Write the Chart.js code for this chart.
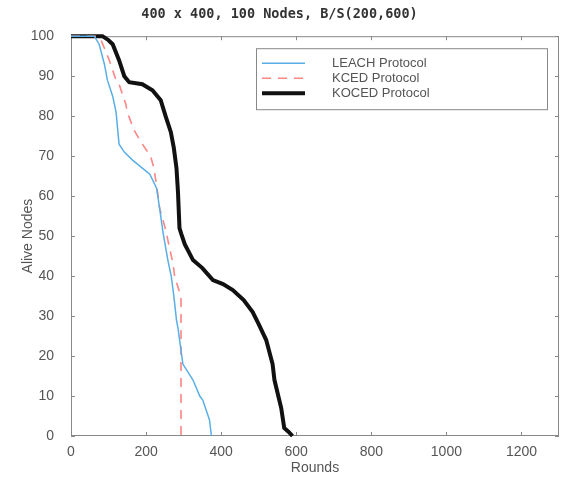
<!DOCTYPE html>
<html>
<head>
<meta charset="utf-8">
<script src="https://cdn.jsdelivr.net/npm/chart.js@4/dist/chart.umd.min.js"></script>
<style>
  html, body { margin: 0; padding: 0; background: #fff; }
  #wrap { width: 561px; height: 485px; }
</style>
</head>
<body>
<div id="wrap"><canvas id="chart1"></canvas></div>
<script>
"use strict";

var chartTitle = '400 x 400, 100 Nodes, B/S(200,600)';

// rounds / alive nodes
var leachRounds = [0, 62, 75, 89, 97, 111, 120, 124, 128, 142, 164, 190, 210, 228, 236, 245, 258, 267, 274, 281, 285, 298, 325, 343, 351, 369, 374];
var leachAlive  = [100, 100, 98, 93, 89, 85, 81, 77, 73, 71, 69, 67, 65.5, 62, 57, 51, 44, 40, 35, 29, 27, 18, 14, 10, 9, 4, 0];

var kcedRounds = [0, 68, 80, 89, 102, 120, 128, 146, 150, 168, 190, 212, 221, 223, 232, 236, 254, 258, 272, 276, 289, 293, 293];
var kcedAlive  = [100, 100, 99, 97, 94, 89, 88, 83, 81, 76.5, 73, 70, 67, 65.7, 60, 57, 51, 49, 43, 40, 36, 35, 0];

var kocedRounds = [0, 84, 100, 111, 128, 142, 155, 190, 217, 239, 252, 266, 274, 281, 285, 289, 294, 303, 325, 350, 378, 405, 431, 460, 484, 500, 520, 537, 542, 560, 568, 580, 590];
var kocedAlive  = [100, 100, 99, 98, 94, 90, 88.5, 88, 86.5, 84, 80, 76, 72, 67, 61, 52, 50.5, 48, 44, 42, 39, 38, 36.5, 34, 31, 28, 24, 18, 14, 7, 2, 1, 0];

var xTicks = [0, 200, 400, 600, 800, 1000, 1200];

var toPoints = function toPoints(xs, ys) {
  var pts = [];
  for (var i = 0; i < xs.length; i++) {
    pts.push({ x: xs[i], y: ys[i] });
  }
  return pts;
};

var axisColor = '#888';
var textColor = '#555';

// matlab style box + inward ticks
var framePlugin = {
  id: 'frame',
  beforeDatasetsDraw: function (chart) {
    var c = chart.ctx, a = chart.chartArea;
    var xs = chart.scales.x, ys = chart.scales.y;
    c.save();
    c.strokeStyle = axisColor;
    c.lineWidth = 1;
    c.strokeRect(a.left + 0.5, a.top + 0.5, a.right - a.left - 1, a.bottom - a.top - 1);
    c.beginPath();
    xs.ticks.forEach(function (t) {
      var px = Math.round(xs.getPixelForValue(t.value)) + 0.5;
      c.moveTo(px, a.bottom); c.lineTo(px, a.bottom - 4);
      c.moveTo(px, a.top); c.lineTo(px, a.top + 4);
    });
    ys.ticks.forEach(function (t) {
      var py = Math.round(ys.getPixelForValue(t.value)) + 0.5;
      c.moveTo(a.left, py); c.lineTo(a.left + 4, py);
      c.moveTo(a.right, py); c.lineTo(a.right - 4, py);
    });
    c.stroke();
    c.restore();
  }
};

var legendPlugin = {
  id: 'boxLegend',
  afterDatasetsDraw: function (chart) {
    var c = chart.ctx, a = chart.chartArea;
    var w = 291, h = 61;
    var x0 = a.right - 12 - w, y0 = a.top + 12;
    c.save();
    c.fillStyle = '#fff';
    c.fillRect(x0, y0, w, h);
    c.strokeStyle = axisColor;
    c.lineWidth = 1;
    c.strokeRect(x0 + 0.5, y0 + 0.5, w, h);
    c.font = '13px "Liberation Sans", Arial, sans-serif';
    c.textBaseline = 'middle';
    chart.data.datasets.forEach(function (ds, i) {
      var y = y0 + 15 + i * 15;
      c.strokeStyle = ds.borderColor;
      c.lineWidth = ds.borderWidth;
      c.setLineDash(ds.borderDash || []);
      c.beginPath();
      c.moveTo(x0 + 6, y);
      c.lineTo(x0 + 49, y);
      c.stroke();
      c.setLineDash([]);
      c.fillStyle = textColor;
      c.fillText(ds.label, x0 + 76, y);
    });
    c.restore();
  }
};

var ctx = document.getElementById('chart1').getContext('2d');
new Chart(ctx, {
  type: 'line',
  data: {
    datasets: [{
      label: 'LEACH Protocol',
      data: toPoints(leachRounds, leachAlive),
      borderColor: '#5aaee6',
      borderWidth: 1.5,
      pointRadius: 0,
      fill: false,
      clip: false
    }, {
      label: 'KCED Protocol',
      data: toPoints(kcedRounds, kcedAlive),
      borderColor: '#ff8585',
      borderWidth: 1.6,
      borderDash: [9, 7],
      pointRadius: 0,
      fill: false,
      clip: false
    }, {
      label: 'KOCED Protocol',
      data: toPoints(kocedRounds, kocedAlive),
      borderColor: '#111',
      borderWidth: 4,
      pointRadius: 0,
      fill: false,
      clip: false
    }]
  },
  options: {
    responsive: true,
    maintainAspectRatio: false,
    animation: false,
    layout: { padding: { left: 0, right: 2, top: 0, bottom: 0 } },
    plugins: {
      legend: { display: false },
      tooltip: { enabled: false },
      title: {
        display: true,
        text: chartTitle,
        color: '#333',
        font: { family: '"DejaVu Sans Mono", monospace', size: 13.5, weight: 'bold' },
        padding: { top: 6, bottom: 14 }
      }
    },
    scales: {
      x: {
        type: 'linear',
        min: 0,
        max: 1300,
        afterBuildTicks: function (scale) {
          scale.ticks = xTicks.map(function (v) { return { value: v }; });
        },
        afterFit: function (scale) { scale.height = 49; },
        grid: { display: false },
        border: { display: false },
        ticks: {
          color: textColor,
          padding: 0,
          font: { family: '"Liberation Sans", Arial, sans-serif', size: 14 },
          callback: function (v) { return String(v); }
        },
        title: {
          display: true,
          text: 'Rounds',
          color: textColor,
          font: { family: '"Liberation Sans", Arial, sans-serif', size: 14 },
          padding: { top: 0, bottom: 8 }
        }
      },
      y: {
        min: 0,
        max: 100,
        afterFit: function (scale) { scale.width = 71; },
        grid: { display: false },
        border: { display: false },
        ticks: {
          stepSize: 10,
          color: textColor,
          padding: 9,
          font: { family: '"Liberation Sans", Arial, sans-serif', size: 14 }
        },
        title: {
          display: true,
          text: 'Alive Nodes',
          color: textColor,
          font: { family: '"Liberation Sans", Arial, sans-serif', size: 14 },
          padding: { top: 20, bottom: 0 }
        }
      }
    }
  },
  plugins: [framePlugin, legendPlugin]
});
</script>
</body>
</html>
